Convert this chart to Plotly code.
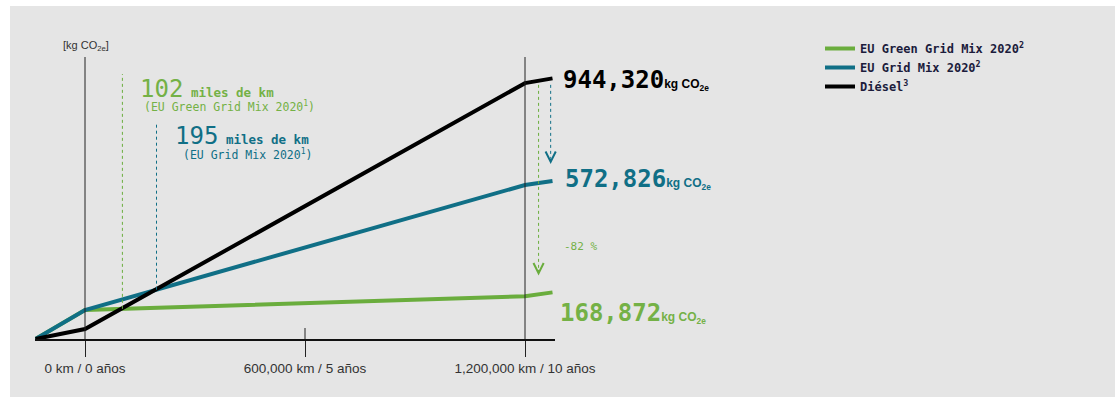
import numpy as np
import plotly.graph_objects as go

# ---------------- data ----------------
km = [-135000, 0, 1200000, 1275000]
green_mix = [0, 105000, 155000, 168872]
grid_mix = [0, 105000, 558000, 572826]
diesel = [0, 36000, 927000, 944320]

series_names = ["EU Green Grid Mix 2020<sup>2</sup>", "EU Grid Mix 2020<sup>2</sup>", "Diésel<sup>3</sup>"]
breakeven_km = [102000, 195000]
breakeven_sub = ["(EU Green Grid Mix 2020<sup>1</sup>)", "(EU Grid Mix 2020<sup>1</sup>)"]
tick_vals = [0, 600000, 1200000]
tick_text = ["0 km / 0 años", "600,000 km / 5 años", "1,200,000 km / 10 años"]

# ---------------- style ----------------
GREEN = "#6aad3d"
GREEN_T = "#74b146"
TEAL = "#106f86"
BLACK = "#000000"
BG = "#e5e5e5"
MONO = "DejaVu Sans Mono, Liberation Mono, monospace"
SANS = "Liberation Sans, Arial, sans-serif"

W, H = 1115, 397
L, R, T, B = 35, 555, 57, 339
PW, PH = R - L, B - T
KX = 440 / 1.2e6          # px per km
KY = 2.76e-4              # px per kg
x_range = [-(85 - L) / KX, (R - 85) / KX]
y_range = [0, PH / KY]


def pxx(p):
    return (p - L) / PW


def pxy(p):
    return (B - p) / PH


fig = go.Figure()
colors = [GREEN, TEAL, BLACK]
for name, ys, c in zip(series_names, [green_mix, grid_mix, diesel], colors):
    fig.add_trace(go.Scatter(x=km, y=ys, mode="lines", name=name,
                             line=dict(color=c, width=4), hoverinfo="skip"))

shapes = []
# background panel
shapes.append(dict(type="rect", xref="paper", yref="paper", x0=pxx(10), x1=pxx(W + 5),
                   y0=pxy(H + 5), y1=pxy(6), fillcolor=BG, line=dict(width=0), layer="below"))
# vertical reference lines
for xv in [0, 1200000]:
    shapes.append(dict(type="line", xref="x", yref="paper", x0=xv, x1=xv, y0=0, y1=1,
                       line=dict(color="#222", width=1)))
shapes.append(dict(type="line", xref="x", yref="paper", x0=600000, x1=600000, y0=0, y1=pxy(328),
                   line=dict(color="#222", width=1)))

# breakeven dotted lines
tops = [74, 124]
for bk, ys, c, tp in zip(breakeven_km, [green_mix, grid_mix], [GREEN, TEAL], tops):
    yb = float(np.interp(bk, km, ys))
    shapes.append(dict(type="line", xref="x", yref="y", x0=bk, x1=bk, y0=yb, y1=(B - tp) / KY,
                       line=dict(color=c, width=1, dash="dot")))

# reduction arrows at the end
arrow_x = [1237000, 1270000]
arrow_targets = [green_mix[-1], grid_mix[-1]]
arrow_cols = [GREEN, TEAL]
y_start = diesel[-1] - 6.5 / KY
annotations = []
for ax_, tgt, c in zip(arrow_x, arrow_targets, arrow_cols):
    tip = tgt + 17 / KY
    shapes.append(dict(type="line", xref="x", yref="y", x0=ax_, x1=ax_, y0=y_start, y1=tip + 6 / KY,
                       line=dict(color=c, width=1, dash="dot")))
    annotations.append(dict(x=ax_, y=tip, xref="x", yref="y", text="", showarrow=True,
                            ax=0, ay=-7, arrowhead=5, arrowsize=2, arrowwidth=1, arrowcolor=c))

# axis unit label
annotations.append(dict(x=pxx(86), y=pxy(46), xref="paper", yref="paper", showarrow=False,
                        xanchor="center", yanchor="middle",
                        text="[kg CO<sub>2e</sub>]", font=dict(family=SANS, size=11, color="#333")))

# breakeven labels
big_pos = [(138, 89, 142, 106), (173, 136, 181, 154)]
for bk, sub, c, (x1, y1, x2, y2) in zip(breakeven_km, breakeven_sub, [GREEN_T, TEAL], big_pos):
    annotations.append(dict(x=pxx(x1), y=pxy(y1), xref="paper", yref="paper", xanchor="left",
                            yanchor="middle", showarrow=False,
                            text=f"{bk // 1000}<span style='font-size:12.5px'><b> miles de km</b></span>",
                            font=dict(family=MONO, size=24, color=c)))
    annotations.append(dict(x=pxx(x2), y=pxy(y2), xref="paper", yref="paper", xanchor="left",
                            yanchor="middle", showarrow=False, text=sub,
                            font=dict(family=MONO, size=11.5, color=c)))

# end value labels
end_vals = [diesel[-1], grid_mix[-1], green_mix[-1]]
end_cols = [BLACK, TEAL, GREEN_T]
end_pos = [(561, 80), (563, 179), (558, 313)]
for v, c, (xp, yp) in zip(end_vals, end_cols, end_pos):
    annotations.append(dict(x=pxx(xp), y=pxy(yp), xref="paper", yref="paper", xanchor="left",
                            yanchor="middle", showarrow=False,
                            text=(f"<b>{v:,}</b><span style='font-size:12px;font-family:Liberation Sans,Arial,sans-serif'>"
                                  f"<b>kg CO<sub>2e</sub></b></span>"),
                            font=dict(family=MONO, size=24, color=c)))

# percentage reduction
pct = round((green_mix[-1] - diesel[-1]) / diesel[-1] * 100)
annotations.append(dict(x=pxx(562), y=pxy(246), xref="paper", yref="paper", xanchor="left",
                        yanchor="middle", showarrow=False, text=f"{pct} %",
                        font=dict(family=MONO, size=11, color=GREEN_T)))

fig.update_layout(
    width=W, height=H,
    margin=dict(l=L, r=W - R, t=T, b=H - B),
    paper_bgcolor="white", plot_bgcolor="rgba(0,0,0,0)",
    shapes=shapes, annotations=annotations,
    showlegend=True,
    legend=dict(x=pxx(820), y=pxy(34), xanchor="left", yanchor="top", bgcolor="rgba(0,0,0,0)",
                font=dict(family=MONO, size=12, color="#1c1c3c", weight="bold"),
                itemwidth=30),
    xaxis=dict(range=x_range, showgrid=False, zeroline=False, showline=True, linecolor="#111",
               linewidth=1.5, tickvals=tick_vals, ticktext=tick_text, ticks="outside", ticklen=16,
               tickcolor="#222", tickwidth=1,
               tickfont=dict(family=SANS, size=13.5, color="#333")),
    yaxis=dict(range=y_range, visible=False, showgrid=False, zeroline=False),
)

fig.write_html("out.html")
